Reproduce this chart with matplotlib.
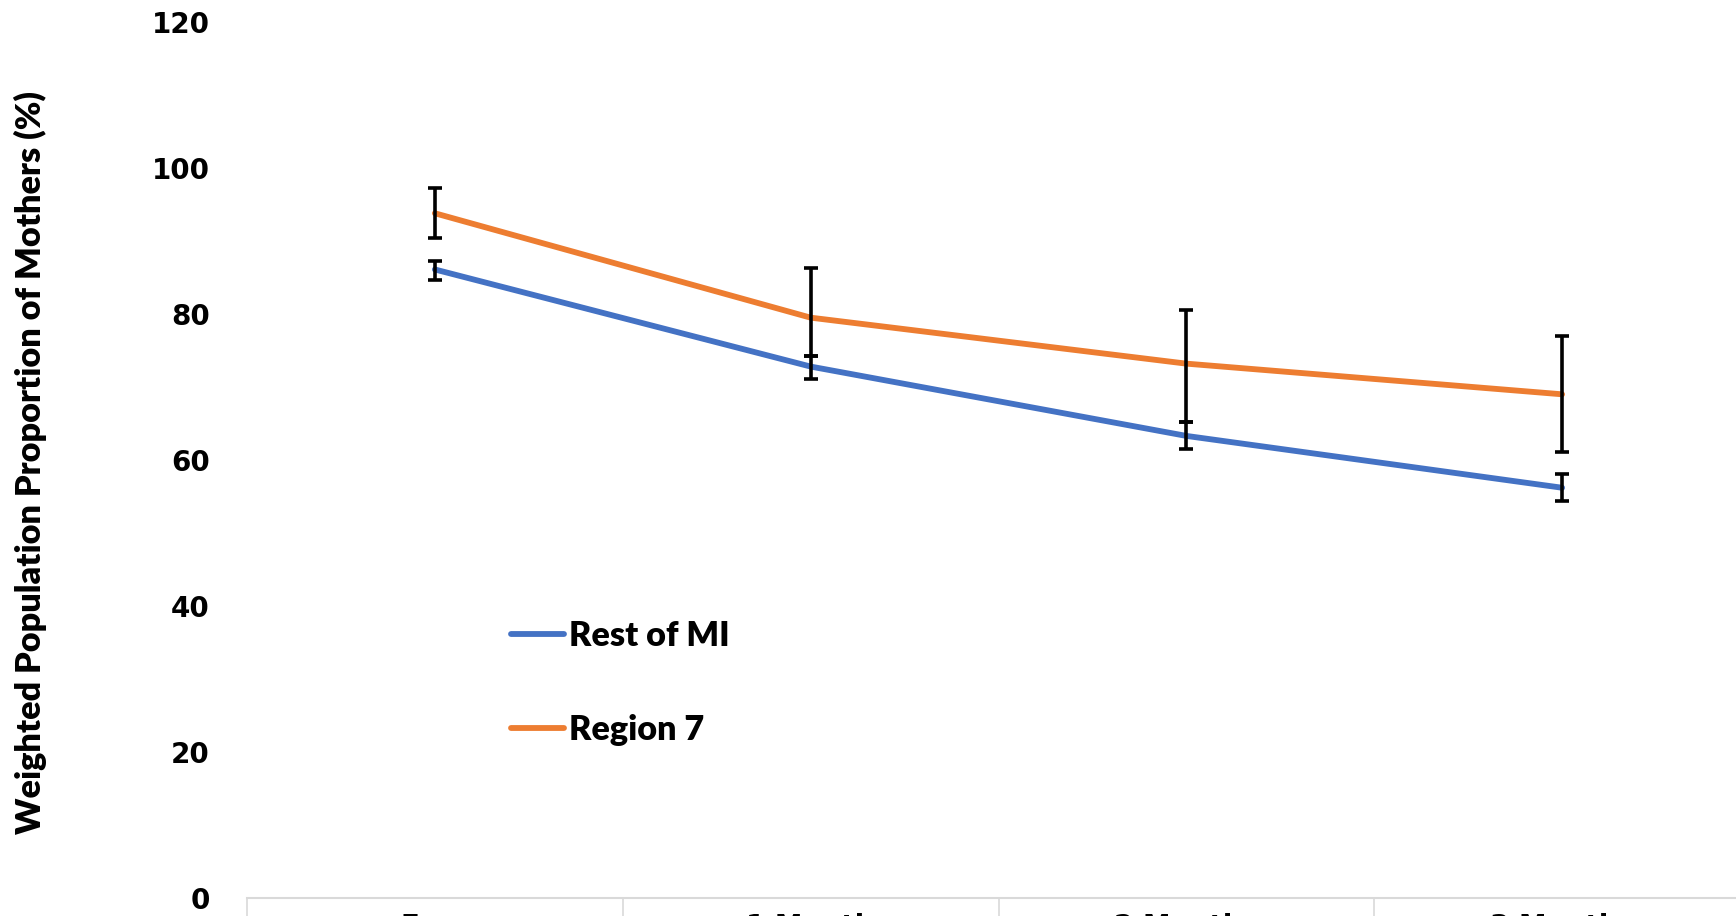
import matplotlib
matplotlib.use("Agg")
import matplotlib.pyplot as plt
from matplotlib.ticker import FixedLocator

# --- Data ---
categorias = ["Ever", "1 Month", "2 Months", "3 Months"]
rest_mi = [86.1, 72.8, 63.3, 56.2]
rest_mi_low = [84.7, 71.1, 61.5, 54.4]
rest_mi_high = [87.2, 74.3, 65.2, 58.1]
region7 = [93.8, 79.5, 73.2, 69.0]
region7_low = [90.4, 74.2, 65.2, 61.1]
region7_high = [97.3, 86.3, 80.6, 77.0]
yticks = [0, 20, 40, 60, 80, 100, 120]

azul = "#4472C4"
naranja = "#ED7D31"

W, H = 1736, 916
fig = plt.figure(figsize=(W / 100, H / 100), dpi=100)
# axes run past the right edge of the picture, like the cropped original
ax = fig.add_axes([247 / W, 18 / H, 1503 / W, 876 / H])

x = list(range(len(categorias)))

ax.plot(x, rest_mi, color=azul, lw=4.2, label="Rest of MI", solid_capstyle="round", zorder=3)
ax.plot(x, region7, color=naranja, lw=4.2, label="Region 7", solid_capstyle="round", zorder=3)

# error bars
err_rest = [[v - lo for v, lo in zip(rest_mi, rest_mi_low)],
            [hi - v for v, hi in zip(rest_mi, rest_mi_high)]]
err_r7 = [[v - lo for v, lo in zip(region7, region7_low)],
          [hi - v for v, hi in zip(region7, region7_high)]]
ax.errorbar(x, rest_mi, yerr=err_rest, fmt="none", ecolor="black",
            elinewidth=2.6, capsize=5, capthick=2.6, zorder=4)
ax.errorbar(x, region7, yerr=err_r7, fmt="none", ecolor="black",
            elinewidth=2.6, capsize=5, capthick=2.6, zorder=4)

ax.set_xlim(-0.5, len(categorias) - 0.5)
ax.set_ylim(0, 120)

for s in ["top", "right", "left"]:
    ax.spines[s].set_visible(False)
ax.spines["bottom"].set_color("#D9D9D9")
ax.spines["bottom"].set_linewidth(1.5)

ax.set_yticks(yticks)
ax.set_yticklabels([str(v) for v in yticks], fontsize=20, fontweight="bold", family="DejaVu Sans")
ax.tick_params(axis="y", length=0, pad=27)

ax.set_xticks(x)
ax.set_xticklabels(categorias, fontsize=20, fontweight="bold", family="DejaVu Sans")
ax.tick_params(axis="x", which="major", length=0, pad=11)
ax.xaxis.set_minor_locator(FixedLocator([i - 0.5 for i in range(len(categorias) + 1)]))
ax.tick_params(axis="x", which="minor", length=30, width=1.2, color="#D9D9D9")

fig.text(30 / W, 0.4956, "Weighted Population Proportion of Mothers (%)",
         rotation=90, ha="center", va="center", fontsize=24.7, fontweight="heavy", family="Lato")

ax.legend(loc="upper left", bbox_to_anchor=(511 / W, 296 / H), bbox_transform=fig.transFigure,
          frameon=False, borderpad=0, borderaxespad=0, handlelength=1.55, handletextpad=0.16,
          labelspacing=1.82, prop={"family": "Lato", "weight": "heavy", "size": 24.6})

fig.savefig("out.png", dpi=100)
